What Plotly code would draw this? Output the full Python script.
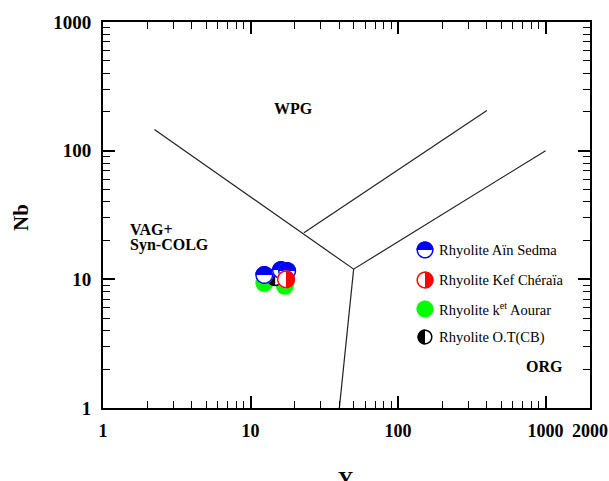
import numpy as np
import plotly.graph_objects as go

# ---- discrimination boundaries (Pearce et al. 1984, Nb vs Y) ----
b1_y_vals = [2.23, 50, 1000]
b1_nb_vals = [146, 12, 100]
b2_y_vals = [50, 40]
b2_nb_vals = [12, 1]
b3_y_vals = [23, 400]
b3_nb_vals = [23, 205]

# ---- samples ----
sedma_y = [12.4, 16.1, 17.7]
sedma_nb = [10.8, 11.8, 11.6]
kef_y = [17.4]
kef_nb = [10.0]
aourar_y = [12.4, 17.1]
aourar_nb = [9.35, 8.9]
ot_y = [14.7]
ot_nb = [10.4]

names = ["Rhyolite Aïn Sedma", "Rhyolite Kef Chéraïa",
         "Rhyolite k<sup>et</sup> Aourar", "Rhyolite O.T(CB)"]
colors = ["#0000ff", "#ff0000", "#00ff00", "#000000"]
halves = ["top", "right", "full", "left"]

x_tickvals = [1, 10, 100, 1000, 2000]
x_ticktext = ["1", "10", "100", "1000", "2000"]
y_tickvals = [1, 10, 100, 1000]
y_ticktext = ["1", "10", "100", "1000"]

SERIF = "Liberation Serif"

fig = go.Figure()

for bx, by in [(b1_y_vals, b1_nb_vals), (b2_y_vals, b2_nb_vals), (b3_y_vals, b3_nb_vals)]:
    fig.add_trace(go.Scatter(x=bx, y=by, mode="lines",
                             line=dict(color="#222222", width=1.2),
                             showlegend=False, hoverinfo="skip"))


def arc_path(r, a0, a1, n=32, close=True):
    a = np.linspace(a0, a1, n)
    pts = [f"{r*np.cos(t):.2f},{r*np.sin(t):.2f}" for t in a]
    return "M " + " L ".join(pts) + (" Z" if close else "")


HALF = {"top": (0, np.pi), "right": (-np.pi / 2, np.pi / 2), "left": (np.pi / 2, 3 * np.pi / 2)}


def pshape(xv, yv, path, fill, xref, yref, lw=0, lc="rgba(0,0,0,0)"):
    return dict(type="path", xref=xref, yref=yref, xsizemode="pixel", ysizemode="pixel",
                xanchor=xv, yanchor=yv, path=path, fillcolor=fill,
                line=dict(width=lw, color=lc))


def symbol_shapes(xv, yv, col, kind, r, xref, yref):
    full = arc_path(r, 0, 2 * np.pi, n=48)
    if kind == "full":
        return [pshape(xv, yv, full, col, xref, yref)]
    a0, a1 = HALF[kind]
    return [
        pshape(xv, yv, full, "white", xref, yref),
        pshape(xv, yv, arc_path(r, a0, a1), col, xref, yref),
        pshape(xv, yv, arc_path(r - 0.75, 0, 2 * np.pi, n=48), "rgba(0,0,0,0)", xref, yref,
               lw=1.5, lc=col),
    ]


shapes = []
R = 9
series = [(sedma_y, sedma_nb), (kef_y, kef_nb), (aourar_y, aourar_nb), (ot_y, ot_nb)]
# drawing order: O.T(CB) at the bottom, then Aïn Sedma, Kef Chéraïa; Aourar (full) on top
for idx in [3, 0, 1]:
    (sx, sy), col, kind = series[idx], colors[idx], halves[idx]
    for xv, yv in zip(sx, sy):
        shapes += symbol_shapes(xv, yv, col, kind, R, "x", "y")

for idx in [3, 0, 1, 2]:
    (sx, sy), col, kind, nm = series[idx], colors[idx], halves[idx], names[idx]
    full = kind == "full"
    fig.add_trace(go.Scatter(
        x=sx, y=sy, mode="markers", name=nm, showlegend=False,
        marker=dict(symbol="circle", size=2 * R,
                    color=col if full else "rgba(0,0,0,0)",
                    line=dict(color=col if full else "rgba(0,0,0,0)", width=0))))

# ---- manual legend (paper coordinates) ----
L, Rt, T, B = 103, 590, 22, 408
W, H = Rt - L, B - T


def px(xp):
    return (xp - L) / W


def py(yp):
    return (B - yp) / H


leg_rows = [250, 280, 309, 337]
leg_r = [8.5, 8.5, 8.5, 7.5]
annotations = []
for row, col, kind, nm, rr in zip(leg_rows, colors, halves, names, leg_r):
    ax, ay = px(425), py(row)
    shapes += symbol_shapes(ax, ay, col, kind, rr, "paper", "paper")
    annotations.append(dict(x=px(437), y=ay, xref="paper", yref="paper", text=nm,
                            showarrow=False, xanchor="left", yanchor="middle",
                            font=dict(family=SERIF, size=14.5, color="black")))

# ---- region labels ----
bold16 = dict(family=SERIF, size=16, color="black", weight="bold")
annotations += [
    dict(x=px(293), y=py(108), xref="paper", yref="paper", text="WPG", showarrow=False,
         xanchor="center", yanchor="middle", font=bold16),
    dict(x=px(128), y=py(229), xref="paper", yref="paper", text="VAG+", showarrow=False,
         xanchor="left", yanchor="middle", font=bold16),
    dict(x=px(128), y=py(245), xref="paper", yref="paper", text="Syn-COLG", showarrow=False,
         xanchor="left", yanchor="middle", font=bold16),
    dict(x=px(544), y=py(366), xref="paper", yref="paper", text="ORG", showarrow=False,
         xanchor="center", yanchor="middle", font=bold16),
    # axis titles
    dict(x=px(345), y=py(465), xref="paper", yref="paper", text="Y", showarrow=False,
         xanchor="center", yanchor="top",
         font=dict(family=SERIF, size=21, color="black", weight="bold")),
    dict(x=px(21), y=py(218), xref="paper", yref="paper", text="Nb", showarrow=False, textangle=-90,
         xanchor="center", yanchor="middle",
         font=dict(family=SERIF, size=21, color="black", weight="bold")),
]

x_minor = [m * 10 ** d for d in range(0, 3) for m in range(2, 10)]
y_minor = [m * 10 ** d for d in range(0, 3) for m in range(2, 10)]

axis_common = dict(type="log", showgrid=False, zeroline=False, showline=True, linecolor="black",
                   linewidth=2, mirror="ticks", ticks="inside", ticklen=12, tickwidth=1.5,
                   tickcolor="black", automargin=False)

fig.update_layout(
    width=609, height=481,
    margin=dict(l=L, r=609 - Rt, t=T, b=481 - B, autoexpand=False),
    paper_bgcolor="white", plot_bgcolor="white",
    xaxis=dict(**axis_common, range=[0, np.log10(2000)], tickmode="array",
               tickvals=x_tickvals, ticktext=x_ticktext, ticklabelstandoff=5,
               tickfont=dict(family=SERIF, size=18, color="black", weight="bold"),
               minor=dict(tickmode="array", tickvals=x_minor, ticks="inside", ticklen=7,
                          tickwidth=1.2, tickcolor="black", showgrid=False)),
    yaxis=dict(**axis_common, range=[0, 3], tickmode="array",
               tickvals=y_tickvals, ticktext=y_ticktext, ticklabelstandoff=6,
               tickfont=dict(family=SERIF, size=19, color="black", weight="bold"),
               minor=dict(tickmode="array", tickvals=y_minor, ticks="inside", ticklen=7,
                          tickwidth=1.2, tickcolor="black", showgrid=False)),
    shapes=shapes,
    annotations=annotations,
    showlegend=False,
)

fig.write_html("out.html")
